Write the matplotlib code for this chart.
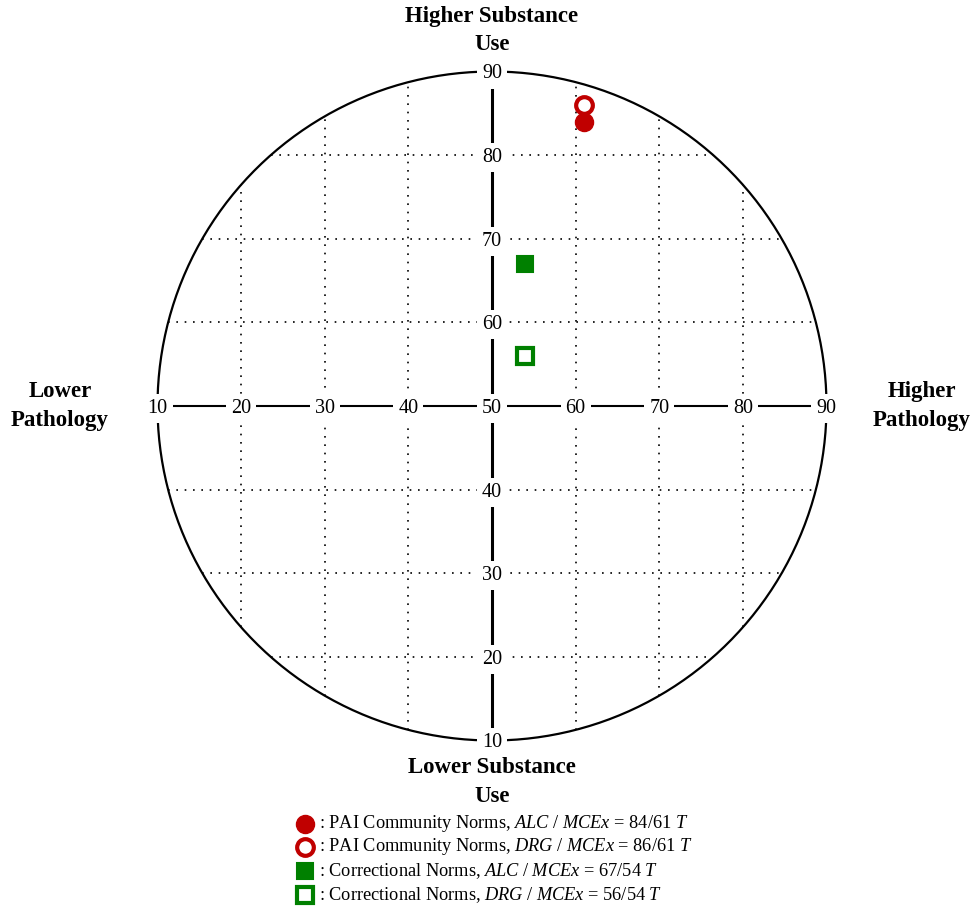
import numpy as np
import matplotlib
matplotlib.use("Agg")
import matplotlib.pyplot as plt

plt.rcParams['font.family'] = ['Liberation Serif', 'DejaVu Serif']
plt.rcParams['mathtext.fontset'] = 'custom'
plt.rcParams['mathtext.rm'] = 'Liberation Serif'
plt.rcParams['mathtext.it'] = 'Liberation Serif:italic'

# data: (pathology T, substance use T)
pathology = [61, 61, 54, 54]
substance = [84, 86, 67, 56]
scales = ["ALC", "DRG", "ALC", "DRG"]
norms = ["PAI Community Norms", "PAI Community Norms", "Correctional Norms", "Correctional Norms"]
mcex = [61, 61, 54, 54]
ticks = [10, 20, 30, 40, 50, 60, 70, 80, 90]

red = "#C00000"
green = "#008000"
styles = [
    dict(marker="o", color=red, mfc=red, ms=13, mew=1),
    dict(marker="o", color=red, mfc="white", ms=12, mew=3),
    dict(marker="s", color=green, mfc=green, ms=12, mew=1.5, mec=green),
    dict(marker="s", color=green, mfc="white", ms=11, mew=3),
]

fig = plt.figure(figsize=(9.74, 9.08), dpi=100)
ax = fig.add_axes([0, 0, 1, 1])
ppu = 8.3625
ax.set_xlim(50 - 492 / ppu, 50 + 482 / ppu)
ax.set_ylim(50 - 502 / ppu, 50 + 406 / ppu)
ax.set_aspect("equal")
ax.axis("off")

R = 40
th = np.linspace(0, 2 * np.pi, 400)
ax.plot(50 + R * np.cos(th), 50 + R * np.sin(th), color="black", lw=1.6, zorder=2)

# dotted grid clipped to circle
for t in ticks[1:-1]:
    if t == 50:
        continue
    h = np.sqrt(R ** 2 - (t - 50) ** 2)
    ax.plot([50 - h, 50 + h], [t, t], color="black", lw=1.2, ls=(0, (1, 4)), zorder=1)
    ax.plot([t, t], [50 - h, 50 + h], color="black", lw=1.2, ls=(0, (1, 4)), zorder=1)

# main axes
ax.plot([10, 90], [50, 50], color="black", lw=1.5, zorder=2)
ax.plot([50, 50], [10, 90], color="black", lw=2.2, zorder=2)

box = dict(boxstyle="square,pad=0.25", fc="white", ec="none")
for t in ticks:
    ax.text(t, 50, str(t), ha="center", va="center_baseline", fontsize=14.5, bbox=box, zorder=3)
    if t != 50:
        ax.text(50, t, str(t), ha="center", va="center_baseline", fontsize=14.5, bbox=box, zorder=3)

for i in range(len(pathology)):
    ax.plot(pathology[i], substance[i], ls="none", zorder=4, **styles[i])

lab = dict(ha="center", va="center", fontsize=16.5, fontweight="bold", linespacing=1.45)
ax.text(50, 50 + (406 - 30.5) / ppu, "Higher Substance\nUse", **lab)
ax.text(50, 50 - (782 - 406) / ppu, "Lower Substance\nUse", **lab)
ax.text(50 - (492 - 60) / ppu, 50, "Lower\nPathology", **lab)
ax.text(50 + (922 - 492) / ppu, 50, "Higher\nPathology", **lab)

# legend
leg_y = [824, 847, 871, 895]
for i in range(len(pathology)):
    y = 50 - (leg_y[i] - 406) / ppu
    ax.plot(50 - (492 - 305) / ppu, y, ls="none", **styles[i])
    txt = ": %s, $%s\\ /\\ MCEx$ = %d/%d $T$" % (norms[i], scales[i], substance[i], mcex[i])
    ax.text(50 - (492 - 319) / ppu, y, txt, ha="left", va="center", fontsize=13.2)

fig.savefig("out.png", dpi=100)
